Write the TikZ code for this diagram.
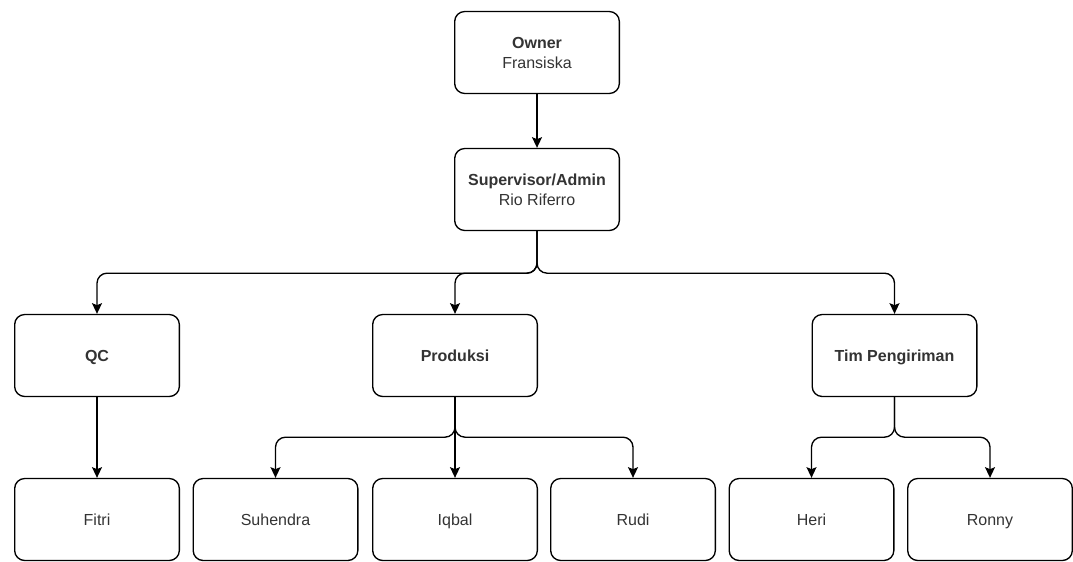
\documentclass[tikz,border=0pt]{standalone}
\usepackage{fontspec}
\setmainfont{Liberation Sans}
\usetikzlibrary{arrows.meta}
\begin{document}
\begin{tikzpicture}[x=0.75pt,y=-0.75pt,
  box/.style={draw=black, line width=1pt, rounded corners=7.5pt, minimum width=123.5pt, minimum height=61.5pt, inner sep=0pt, align=center, text=black!80, font=\fontsize{12}{15}\selectfont},
  one/.style={box, text height=12pt, text depth=2.6pt},
  edge/.style={draw=black, line width=1pt, rounded corners=7.5pt, -{Stealth[length=8pt,width=7.5pt,inset=1.5pt]}}]
\useasboundingbox (0,0) rectangle (1073,561);
\node[box] (owner) at (537,52.5) {\textbf{Owner}\\Fransiska};
\node[box] (sup) at (537,189.5) {\textbf{Supervisor/Admin}\\Rio Riferro};
\node[one] (qc) at (97,355.5) {\textbf{QC}};
\node[one] (prod) at (455,355.5) {\textbf{Produksi}};
\node[one] (tim) at (894.5,355.5) {\textbf{Tim Pengiriman}};
\node[one] (fitri) at (97,519.5) {Fitri};
\node[one] (suh) at (275.5,519.5) {Suhendra};
\node[one] (iqbal) at (455,519.5) {Iqbal};
\node[one] (rudi) at (633,519.5) {Rudi};
\node[one] (heri) at (811.5,519.5) {Heri};
\node[one] (ronny) at (990,519.5) {Ronny};
\draw[edge] (owner.south) -- (sup.north);
\draw[edge] (sup.south) -- ++(0,42) -| (qc.north);
\draw[edge] (sup.south) -- ++(0,42) -| (prod.north);
\draw[edge] (sup.south) -- ++(0,42) -| (tim.north);
\draw[edge] (qc.south) -- (fitri.north);
\draw[edge] (prod.south) -- ++(0,40) -| (suh.north);
\draw[edge] (prod.south) -- (iqbal.north);
\draw[edge] (prod.south) -- ++(0,40) -| (rudi.north);
\draw[edge] (tim.south) -- ++(0,40) -| (heri.north);
\draw[edge] (tim.south) -- ++(0,40) -| (ronny.north);
\end{tikzpicture}
\end{document}
